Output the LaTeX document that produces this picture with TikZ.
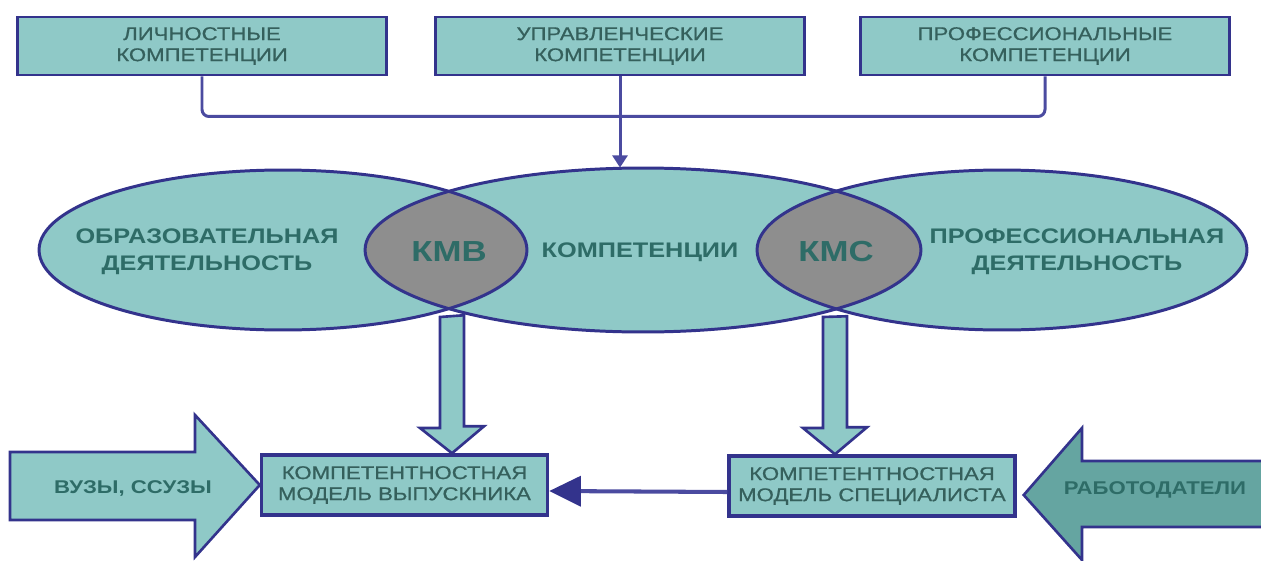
\documentclass[tikz,border=0pt]{standalone}
\usepackage{fontspec}
\newfontfamily\diafont[FakeStretch=1.2]{Liberation Sans}
\newfontfamily\boxfont[FakeStretch=1.2, FakeBold=0.8]{Liberation Sans}
\usepackage{xcolor}
\usetikzlibrary{arrows.meta, positioning, shapes.geometric}

\definecolor{tealfill}{HTML}{8FC9C7}
\definecolor{tealdark}{HTML}{65A5A1}
\definecolor{lensgray}{HTML}{8E8E8E}
\definecolor{navy}{HTML}{33338C}
\definecolor{linkblue}{HTML}{4B4BA0}
\definecolor{textteal}{HTML}{2E6C67}
\definecolor{boxtext}{HTML}{35605C}

\begin{document}
\begin{tikzpicture}[x=0.02cm, y=-0.02cm,
    topbox/.style={rectangle, draw=navy, fill=tealfill, line width=1.7pt, minimum width=7.4cm, minimum height=1.16cm, align=center, text=boxtext, font=\boxfont\fontsize{10.5}{12}\selectfont},
    botbox/.style={rectangle, draw=navy, fill=tealfill, line width=2pt, minimum width=5.72cm, minimum height=1.2cm, inner sep=1pt, align=center, text=boxtext, font=\boxfont\fontsize{10.5}{12}\selectfont},
    ell/.style={ellipse, fill=tealfill, inner sep=0pt},
    ellline/.style={draw=navy, line width=1.7pt},
    elltext/.style={align=center, text=textteal, font=\diafont\bfseries\fontsize{12}{15.5}\selectfont},
    lenstext/.style={text=textteal, font=\diafont\bfseries\fontsize{16.5}{18}\selectfont},
    bigtext/.style={text=textteal, font=\diafont\bfseries\fontsize{10.5}{12}\selectfont},
    blockarrow/.style={draw=navy, fill=tealfill, line width=1.5pt, line join=miter},
    link/.style={draw=linkblue, line width=1.7pt},
    hlink/.style={draw=linkblue, line width=2.3pt, -{Triangle[length=18pt, width=17pt, color=navy, fill=navy]}}
]
    \useasboundingbox (0,0) rectangle (1261,561);

    % Top competence boxes
    \node[topbox] (lich) at (202,46) {ЛИЧНОСТНЫЕ\\КОМПЕТЕНЦИИ};
    \node[topbox] (upr) at (620,46) {УПРАВЛЕНЧЕСКИЕ\\КОМПЕТЕНЦИИ};
    \node[topbox] (prof) at (1045,46) {ПРОФЕССИОНАЛЬНЫЕ\\КОМПЕТЕНЦИИ};

    % Three overlapping ellipses
    \node[ell, minimum width=9.76cm, minimum height=3.2cm] (obr) at (283,250) {};
    \node[ell, minimum width=11.12cm, minimum height=3.28cm] (komp) at (643,250) {};
    \node[ell, minimum width=9.8cm, minimum height=3.2cm] (profd) at (1002,250) {};

    % Grey lens areas
    \begin{scope}
        \clip (obr.center) ellipse [x radius=4.88cm, y radius=1.6cm];
        \fill[lensgray] (komp.center) ellipse [x radius=5.56cm, y radius=1.64cm];
    \end{scope}
    \begin{scope}
        \clip (profd.center) ellipse [x radius=4.9cm, y radius=1.6cm];
        \fill[lensgray] (komp.center) ellipse [x radius=5.56cm, y radius=1.64cm];
    \end{scope}

    % Outlines on top
    \draw[ellline] (obr.center) ellipse [x radius=4.88cm, y radius=1.6cm];
    \draw[ellline] (komp.center) ellipse [x radius=5.56cm, y radius=1.64cm];
    \draw[ellline] (profd.center) ellipse [x radius=4.9cm, y radius=1.6cm];

    \node[elltext] (obrtext) at (207,252) {ОБРАЗОВАТЕЛЬНАЯ\\ДЕЯТЕЛЬНОСТЬ};
    \node[lenstext] (kmv) at (449,252) {КМВ};
    \node[elltext] (komptext) at (640,252) {КОМПЕТЕНЦИИ};
    \node[lenstext] (kms) at (836,252) {КМС};
    \node[elltext] (proftext) at (1077,252) {ПРОФЕССИОНАЛЬНАЯ\\ДЕЯТЕЛЬНОСТЬ};

    % Bus from the top boxes
    \draw[link, rounded corners=4pt] (lich.south) -- ++(0,40) -| (prof.south);
    \draw[link, -{Triangle[length=7pt, width=8.5pt]}] (upr.south) -- (upr.south |- komp.north);

    % Bottom model boxes
    \node[botbox] (grad) at (404.5,485) {КОМПЕТЕНТНОСТНАЯ\\МОДЕЛЬ ВЫПУСКНИКА};
    \node[botbox] (spec) at (872,486) {КОМПЕТЕНТНОСТНАЯ\\МОДЕЛЬ СПЕЦИАЛИСТА};

    % Block arrows down from the lenses
    \coordinate (kmvbot) at (452,317);
    \coordinate (kmsbot) at (835,317);
    \draw[blockarrow] (kmvbot) ++(-12,0) -- ++(0,111) -- ++(-20,0) -- (kmvbot |- grad.north) -- ++(32,-27) -- ++(-20,0) -- ++(0,-111) -- cycle;
    \draw[blockarrow] (kmsbot) ++(-12,0) -- ++(0,111) -- ++(-20,0) -- (kmsbot |- spec.north) -- ++(32,-27) -- ++(-20,0) -- ++(0,-111) -- cycle;

    \draw[hlink] ([yshift=-0.12cm]spec.west) -- ([yshift=-0.12cm]grad.east);

    % Big side arrows
    \draw[blockarrow] (10,452) -- (195,452) -- (195,415) -- (grad.west) -- (195,557) -- (195,520) -- (10,520) -- cycle;
    \node[bigtext] (vuzy) at (133,488) {ВУЗЫ, ССУЗЫ};

    \fill[tealdark] (1270,461) -- (1082,461) -- (1082,428) -- ([xshift=0.14cm, yshift=-0.18cm]spec.east) -- (1082,560) -- (1082,527) -- (1270,527) -- cycle;
    \draw[navy, line width=1.5pt, line join=miter] (1270,461) -- (1082,461) -- (1082,428) -- ([xshift=0.14cm, yshift=-0.18cm]spec.east) -- (1082,560) -- (1082,527) -- (1270,527);
    \node[bigtext] (rab) at (1155,490) {РАБОТОДАТЕЛИ};
\end{tikzpicture}
\end{document}
